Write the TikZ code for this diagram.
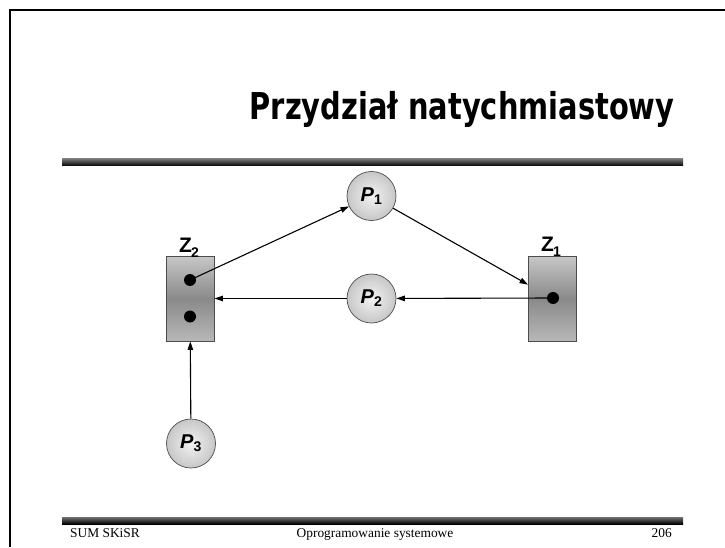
\documentclass[tikz,border=0pt]{standalone}
\usepackage{fontspec}
\setmainfont{Liberation Serif}
\setsansfont{Liberation Sans}
\newfontfamily\headfont{DejaVu Sans}
\usetikzlibrary{arrows.meta}

\begin{document}
\begin{tikzpicture}[x=1pt,y=1pt,
  proc/.style={circle, draw=black!70, line width=0.7pt, inner color=black!5, outer color=black!22, minimum size=49pt, inner sep=0pt, font=\sffamily\bfseries\fontsize{20}{20}\selectfont},
  res/.style={rectangle, draw=black!70, line width=0.9pt, top color=black!22, bottom color=black!28, middle color=black!46, minimum width=48pt, minimum height=85pt, inner sep=0pt},
  tok/.style={circle, fill=black, minimum size=12pt, inner sep=0pt},
  reslabel/.style={anchor=base west, inner sep=0pt, font=\sffamily\bfseries\fontsize{21}{21}\selectfont},
  edge/.style={line width=1.1pt, -{Triangle[length=8.5pt,width=5.5pt]}},
  foot/.style={inner sep=0pt, font=\fontsize{13.4}{14}\selectfont}]
\useasboundingbox (0,0) rectangle (725,547);

\draw[line width=2.5pt] (10,0) -- (10,537) -- (725,537);
\node[anchor=base, inner sep=0pt, font=\headfont\bfseries\fontsize{37}{40}\selectfont] (title) at (462,427) {\scalebox{0.78}[1]{Przydział natychmiastowy}};
\shade[top color=black!55, bottom color=black] (62,381) rectangle (683,388);
\shade[top color=black!55, bottom color=black] (62,23) rectangle (683,30);

\node[res] (z2) at (190,248.5) {};
\node[res] (z1) at (552.5,248.5) {};
\node[reslabel] (z2lab) at (179,294.5) {Z\kern-1pt\raisebox{-4.5pt}{\fontsize{14}{14}\selectfont 2}};
\node[reslabel] (z1lab) at (541,295.5) {Z\kern-1pt\raisebox{-4.5pt}{\fontsize{14}{14}\selectfont 1}};
\node[tok] (z2a) at (190,267) {};
\node[tok] (z2b) at (190,230.5) {};
\node[tok] (z1a) at (553,249) {};

\node[proc] (p1) at (371.5,351) {\itshape P\textsubscript{\upshape 1}};
\node[proc] (p2) at (371.5,248.5) {\itshape P\textsubscript{\upshape 2}};
\node[proc] (p3) at (191,103.5) {\itshape P\textsubscript{\upshape 3}};

\draw[edge] (z2a.center) -- (p1);
\draw[edge] (p1) -- (z1);
\draw[edge] (z1a.center) -- (p2);
\draw[edge] (p2) -- (z2);
\draw[edge] (p3) -- (z2);

\node[foot, anchor=base west] (fleft) at (70,10) {SUM SKiSR};
\node[foot, anchor=base] (fmid) at (375,10) {Oprogramowanie systemowe};
\node[foot, anchor=base east] (fright) at (672,10) {206};
\end{tikzpicture}
\end{document}
